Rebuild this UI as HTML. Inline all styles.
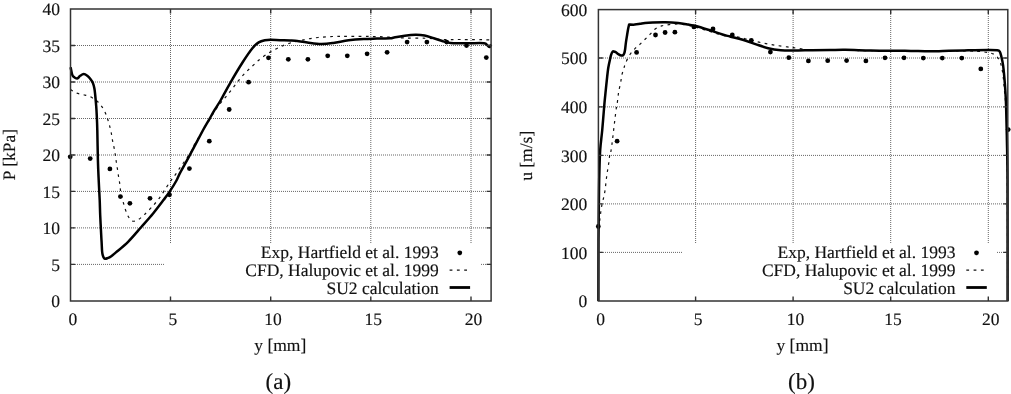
<!DOCTYPE html>
<html><head><meta charset="utf-8"><style>
html,body{margin:0;padding:0;background:#fff;}
svg{display:block;will-change:transform;}
text{font-family:"Liberation Serif", serif;font-size:17.5px;fill:#111;stroke:#111;stroke-width:0.15px;text-rendering:geometricPrecision;}
</style></head><body>
<svg width="1011" height="394" viewBox="0 0 1011 394">
<rect width="1011" height="394" fill="#fff"/>
<path d="M170.5,10V301.0M270.7,10V301.0M370.8,10V301.0M471.0,10V301.0M71,45.5H491.1M71,82.0H491.1M71,118.5H491.1M71,155.0H491.1M71,191.4H491.1M71,227.9H491.1M71,264.4H491.1" stroke="#666" stroke-width="1" stroke-dasharray="1 1" fill="none"/>
<rect x="165" y="243.3" width="315" height="57.69999999999999" fill="#fff"/>
<path d="M70.60,89.60 C71.53,90.17 74.08,92.15 76.20,93.00 C78.32,93.85 80.93,94.07 83.30,94.70 C85.67,95.33 88.20,95.78 90.40,96.80 C92.60,97.82 94.73,99.37 96.50,100.80 C98.27,102.23 99.60,103.57 101.00,105.40 C102.40,107.23 103.83,109.63 104.90,111.80 C105.97,113.97 106.65,116.20 107.40,118.40 C108.15,120.60 108.77,122.62 109.40,125.00 C110.03,127.38 110.70,130.23 111.20,132.70 C111.70,135.17 111.95,137.43 112.40,139.80 C112.85,142.17 113.43,144.53 113.90,146.90 C114.37,149.27 114.85,151.82 115.20,154.00 C115.55,156.18 115.65,157.65 116.00,160.00 C116.35,162.35 116.88,165.40 117.30,168.10 C117.72,170.80 118.10,173.65 118.50,176.20 C118.90,178.75 119.37,181.02 119.70,183.40 C120.03,185.78 120.18,188.32 120.50,190.50 C120.82,192.68 121.12,194.45 121.60,196.50 C122.08,198.55 122.72,200.47 123.40,202.80 C124.08,205.13 124.82,208.08 125.70,210.50 C126.58,212.92 127.57,215.53 128.70,217.30 C129.83,219.07 130.98,220.67 132.50,221.10 C134.02,221.53 135.90,220.92 137.80,219.90 C139.70,218.88 141.62,217.08 143.90,215.00 C146.18,212.92 148.95,210.18 151.50,207.40 C154.05,204.62 156.70,201.67 159.20,198.30 C161.70,194.93 164.52,190.20 166.50,187.20 C168.48,184.20 169.57,182.47 171.10,180.30 C172.63,178.13 174.18,176.37 175.70,174.20 C177.22,172.03 178.80,169.33 180.20,167.30 C181.60,165.27 182.82,163.77 184.10,162.00 C185.38,160.23 186.63,158.60 187.90,156.70 C189.17,154.80 190.68,152.52 191.70,150.60 C192.72,148.68 192.53,147.88 194.00,145.20 C195.47,142.52 198.42,137.95 200.50,134.50 C202.58,131.05 204.67,127.50 206.50,124.50 C208.33,121.50 210.17,118.70 211.50,116.50 C212.83,114.30 213.50,112.88 214.50,111.30 C215.50,109.72 216.25,108.67 217.50,107.00 C218.75,105.33 220.52,103.10 222.00,101.30 C223.48,99.50 224.92,98.00 226.40,96.20 C227.88,94.40 229.42,92.40 230.90,90.50 C232.38,88.60 233.82,86.72 235.30,84.80 C236.78,82.88 238.22,80.92 239.80,79.00 C241.38,77.08 243.22,74.98 244.80,73.30 C246.38,71.62 247.58,70.53 249.30,68.90 C251.02,67.27 253.28,65.15 255.10,63.50 C256.92,61.85 258.17,60.60 260.20,59.00 C262.23,57.40 265.10,55.35 267.30,53.90 C269.50,52.45 271.20,51.48 273.40,50.30 C275.60,49.12 278.30,47.82 280.50,46.80 C282.70,45.78 284.40,45.00 286.60,44.20 C288.80,43.40 291.47,42.58 293.70,42.00 C295.93,41.42 297.72,41.20 300.00,40.70 C302.28,40.20 304.38,39.53 307.40,39.00 C310.42,38.47 313.78,37.92 318.10,37.50 C322.42,37.08 328.22,36.70 333.30,36.50 C338.38,36.30 342.25,36.30 348.60,36.30 C354.95,36.30 364.50,36.37 371.40,36.50 C378.30,36.63 384.43,36.85 390.00,37.10 C395.57,37.35 398.78,37.80 404.80,38.00 C410.82,38.20 419.75,38.05 426.10,38.30 C432.45,38.55 437.05,39.30 442.90,39.50 C448.75,39.70 453.58,39.45 461.20,39.50 C468.82,39.55 483.63,39.75 488.60,39.80 C493.57,39.85 490.60,39.80 491.00,39.80" stroke="#111" stroke-width="1.2" stroke-dasharray="2.7 4.4" fill="none"/>
<path d="M70.60,67.20 C70.85,68.38 71.60,72.70 72.10,74.30 C72.60,75.90 72.75,76.08 73.60,76.80 C74.45,77.52 76.10,78.77 77.20,78.60 C78.30,78.43 79.10,76.55 80.20,75.80 C81.30,75.05 82.62,74.10 83.80,74.10 C84.98,74.10 86.20,75.00 87.30,75.80 C88.40,76.60 89.47,77.72 90.40,78.90 C91.33,80.08 92.23,81.30 92.90,82.90 C93.57,84.50 94.02,86.48 94.40,88.50 C94.78,90.52 94.90,92.05 95.20,95.00 C95.50,97.95 95.94,102.80 96.20,106.20 C96.46,109.60 96.57,111.43 96.75,115.40 C96.93,119.37 97.11,122.57 97.30,130.00 C97.49,137.43 97.67,151.62 97.90,160.00 C98.13,168.38 98.40,173.63 98.70,180.30 C99.00,186.97 99.45,194.17 99.70,200.00 C99.95,205.83 99.95,209.47 100.20,215.30 C100.45,221.13 100.97,230.55 101.20,235.00 C101.43,239.45 101.43,239.10 101.60,242.00 C101.77,244.90 101.90,249.90 102.20,252.40 C102.50,254.90 102.95,255.93 103.40,257.00 C103.85,258.07 104.22,258.60 104.90,258.80 C105.58,259.00 106.43,258.63 107.50,258.20 C108.57,257.77 109.90,257.17 111.30,256.20 C112.70,255.23 113.10,254.80 115.90,252.40 C118.70,250.00 123.87,246.03 128.10,241.80 C132.33,237.57 137.13,231.72 141.30,227.00 C145.47,222.28 149.37,218.03 153.10,213.50 C156.83,208.97 160.92,203.48 163.70,199.80 C166.48,196.12 167.72,194.53 169.80,191.40 C171.88,188.27 174.47,184.12 176.20,181.00 C177.93,177.88 178.00,176.88 180.20,172.70 C182.40,168.52 185.58,163.02 189.40,155.90 C193.22,148.78 199.88,135.93 203.10,130.00 C206.32,124.07 206.70,123.77 208.70,120.30 C210.70,116.83 213.08,112.58 215.10,109.20 C217.12,105.82 218.27,104.40 220.80,100.00 C223.33,95.60 226.68,89.05 230.30,82.80 C233.92,76.55 238.78,68.30 242.50,62.50 C246.22,56.70 249.90,51.35 252.60,48.00 C255.30,44.65 256.67,43.70 258.70,42.40 C260.73,41.10 262.77,40.63 264.80,40.20 C266.83,39.77 268.37,39.80 270.90,39.80 C273.43,39.80 276.82,40.08 280.00,40.20 C283.18,40.32 287.47,40.40 290.00,40.50 C292.53,40.60 292.30,40.47 295.20,40.80 C298.10,41.13 303.08,41.98 307.40,42.50 C311.72,43.02 316.78,43.83 321.10,43.90 C325.42,43.97 328.72,43.50 333.30,42.90 C337.88,42.30 343.52,40.95 348.60,40.30 C353.68,39.65 359.07,39.28 363.80,39.00 C368.53,38.72 372.63,38.72 377.00,38.60 C381.37,38.48 387.15,38.47 390.00,38.30 C392.85,38.13 391.63,38.03 394.10,37.60 C396.57,37.17 401.23,36.17 404.80,35.70 C408.37,35.23 412.20,34.83 415.50,34.80 C418.80,34.77 421.55,34.92 424.60,35.50 C427.65,36.08 430.75,37.33 433.80,38.30 C436.85,39.27 440.12,40.53 442.90,41.30 C445.68,42.07 447.45,42.58 450.50,42.90 C453.55,43.22 457.90,43.15 461.20,43.20 C464.50,43.25 466.50,43.20 470.30,43.20 C474.10,43.20 481.20,42.88 484.00,43.20 C486.80,43.52 486.17,44.45 487.10,45.10 C488.03,45.75 488.93,47.22 489.60,47.10 C490.27,46.98 490.85,44.85 491.10,44.40" stroke="#000" stroke-width="2.5" fill="none" stroke-linejoin="round"/>
<circle cx="70.2" cy="156.8" r="2.4" fill="#000"/><circle cx="90.2" cy="158.6" r="2.4" fill="#000"/><circle cx="109.9" cy="168.9" r="2.4" fill="#000"/><circle cx="120.4" cy="196.6" r="2.4" fill="#000"/><circle cx="129.9" cy="203.3" r="2.4" fill="#000"/><circle cx="150" cy="198.3" r="2.4" fill="#000"/><circle cx="169.5" cy="194.8" r="2.4" fill="#000"/><circle cx="189.4" cy="168.6" r="2.4" fill="#000"/><circle cx="209.3" cy="141.2" r="2.4" fill="#000"/><circle cx="229.2" cy="109.5" r="2.4" fill="#000"/><circle cx="248.6" cy="82.2" r="2.4" fill="#000"/><circle cx="268.5" cy="57.8" r="2.4" fill="#000"/><circle cx="288.3" cy="59.3" r="2.4" fill="#000"/><circle cx="307.9" cy="59.3" r="2.4" fill="#000"/><circle cx="327.7" cy="55.8" r="2.4" fill="#000"/><circle cx="347.3" cy="55.8" r="2.4" fill="#000"/><circle cx="367.1" cy="53.8" r="2.4" fill="#000"/><circle cx="387.1" cy="52.3" r="2.4" fill="#000"/><circle cx="407.1" cy="42.1" r="2.4" fill="#000"/><circle cx="426.9" cy="42.1" r="2.4" fill="#000"/><circle cx="446.7" cy="42.1" r="2.4" fill="#000"/><circle cx="466.5" cy="45.6" r="2.4" fill="#000"/><circle cx="486.3" cy="57.6" r="2.4" fill="#000"/>
<path d="M170.5,301.0v-4.5M170.5,9.0v4.5M270.7,301.0v-4.5M270.7,9.0v4.5M370.8,301.0v-4.5M370.8,9.0v4.5M471.0,301.0v-4.5M471.0,9.0v4.5M70.5,45.5h4.5M491.1,45.5h-4.5M70.5,82.0h4.5M491.1,82.0h-4.5M70.5,118.5h4.5M491.1,118.5h-4.5M70.5,155.0h4.5M491.1,155.0h-4.5M70.5,191.4h4.5M491.1,191.4h-4.5M70.5,227.9h4.5M491.1,227.9h-4.5M70.5,264.4h4.5M491.1,264.4h-4.5" stroke="#333" stroke-width="1.4" fill="none"/>
<rect x="70.5" y="9.0" width="420.60" height="292.00" stroke="#333" stroke-width="1.5" fill="none"/>
<text x="438.70000000000005" y="258.3" text-anchor="end">Exp, Hartfield et al. 1993</text>
<text x="438.70000000000005" y="276.1" text-anchor="end">CFD, Halupovic et al. 1999</text>
<text x="438.70000000000005" y="294" text-anchor="end">SU2 calculation</text>
<circle cx="459.8" cy="252.8" r="2.4" fill="#000"/>
<path d="M449.6,270.1H470.1" stroke="#111" stroke-width="1.2" stroke-dasharray="2.8 4.5" fill="none"/>
<path d="M449.6,287.5H470.1" stroke="#000" stroke-width="2.8" fill="none"/>
<path d="M695.6,10V301.0M793.1,10V301.0M890.7,10V301.0M988.3,10V301.0M599,58.0H1007.8M599,106.9H1007.8M599,155.4H1007.8M599,203.9H1007.8M599,252.4H1007.8" stroke="#666" stroke-width="1" stroke-dasharray="1 1" fill="none"/>
<rect x="682" y="243.5" width="314.5" height="57.5" fill="#fff"/>
<path d="M598.40,228.00 C598.67,226.42 599.58,221.35 600.00,218.50 C600.42,215.65 600.55,213.33 600.90,210.90 C601.25,208.47 601.62,206.23 602.10,203.90 C602.58,201.57 603.32,199.12 603.80,196.90 C604.28,194.68 604.65,192.92 605.00,190.60 C605.35,188.28 605.60,185.53 605.90,183.00 C606.20,180.47 606.48,177.73 606.80,175.40 C607.12,173.07 607.43,171.33 607.80,169.00 C608.17,166.67 608.68,163.72 609.00,161.40 C609.32,159.08 609.47,156.25 609.70,155.10 C609.93,153.95 610.00,156.50 610.40,154.50 C610.80,152.50 611.57,147.12 612.10,143.10 C612.63,139.08 613.10,134.63 613.60,130.40 C614.10,126.17 614.63,121.52 615.10,117.70 C615.57,113.88 616.07,109.72 616.40,107.50 C616.73,105.28 616.83,106.18 617.10,104.40 C617.37,102.62 617.70,99.12 618.00,96.80 C618.30,94.48 618.47,92.83 618.90,90.50 C619.33,88.17 620.12,85.35 620.60,82.80 C621.08,80.25 621.28,77.52 621.80,75.20 C622.32,72.88 623.08,70.90 623.70,68.90 C624.32,66.90 624.57,65.42 625.50,63.20 C626.43,60.98 627.83,57.92 629.30,55.60 C630.77,53.28 632.62,51.10 634.30,49.30 C635.98,47.50 637.60,46.48 639.40,44.80 C641.20,43.12 643.30,40.98 645.10,39.20 C646.90,37.42 648.52,35.80 650.20,34.10 C651.88,32.40 653.30,30.37 655.20,29.00 C657.10,27.63 659.27,26.63 661.60,25.90 C663.93,25.17 666.45,24.92 669.20,24.60 C671.95,24.28 675.57,24.00 678.10,24.00 C680.63,24.00 682.28,24.28 684.40,24.60 C686.52,24.92 689.10,25.53 690.80,25.90 C692.50,26.27 691.40,25.87 694.60,26.80 C697.80,27.73 705.13,30.05 710.00,31.50 C714.87,32.95 719.42,34.62 723.80,35.50 C728.18,36.38 732.10,36.10 736.30,36.80 C740.50,37.50 744.77,38.70 749.00,39.70 C753.23,40.70 757.47,41.90 761.70,42.80 C765.93,43.70 770.17,44.42 774.40,45.10 C778.63,45.78 783.92,46.47 787.10,46.90 C790.28,47.33 791.17,47.37 793.50,47.70 C795.83,48.03 798.57,48.55 801.10,48.90 C803.63,49.25 803.88,49.57 808.70,49.80 C813.52,50.03 819.78,50.17 830.00,50.30 C840.22,50.43 855.00,50.52 870.00,50.60 C885.00,50.68 903.33,50.73 920.00,50.80 C936.67,50.87 958.58,50.68 970.00,51.00 C981.42,51.32 984.25,52.00 988.50,52.70 C992.75,53.40 993.70,53.93 995.50,55.20 C997.30,56.47 998.30,58.40 999.30,60.30 C1000.30,62.20 1000.87,63.98 1001.50,66.60 C1002.13,69.22 1002.62,72.10 1003.10,76.00 C1003.58,79.90 1003.90,84.33 1004.40,90.00 C1004.90,95.67 1005.63,101.67 1006.10,110.00 C1006.57,118.33 1006.95,108.18 1007.20,140.00 C1007.45,171.82 1007.53,274.08 1007.60,300.90" stroke="#111" stroke-width="1.2" stroke-dasharray="2.7 4.4" fill="none"/>
<path d="M598.40,300.90 C598.42,290.75 598.42,256.82 598.50,240.00 C598.58,223.18 598.77,210.77 598.90,200.00 C599.03,189.23 599.08,183.73 599.30,175.40 C599.52,167.07 599.72,157.50 600.20,150.00 C600.68,142.50 601.55,137.48 602.20,130.40 C602.85,123.32 603.68,112.47 604.10,107.50 C604.52,102.53 604.38,103.87 604.70,100.60 C605.02,97.33 605.58,91.92 606.00,87.90 C606.42,83.88 606.85,79.65 607.20,76.50 C607.55,73.35 607.83,70.92 608.10,69.00 C608.37,67.08 608.48,66.60 608.80,65.00 C609.12,63.40 609.62,61.10 610.00,59.40 C610.38,57.70 610.67,56.07 611.10,54.80 C611.53,53.53 612.15,52.37 612.60,51.80 C613.05,51.23 613.28,51.35 613.80,51.40 C614.32,51.45 614.88,51.60 615.70,52.10 C616.52,52.60 617.75,53.82 618.70,54.40 C619.65,54.98 620.63,55.50 621.40,55.60 C622.17,55.70 622.80,55.45 623.30,55.00 C623.80,54.55 624.08,53.95 624.40,52.90 C624.72,51.85 624.95,50.42 625.20,48.70 C625.45,46.98 625.58,44.88 625.90,42.60 C626.22,40.32 626.73,37.27 627.10,35.00 C627.47,32.73 627.77,30.75 628.10,29.00 C628.43,27.25 628.93,25.25 629.10,24.50 C630.05,24.52 632.97,24.72 634.80,24.60 C636.63,24.48 638.40,24.07 640.10,23.80 C641.80,23.53 642.90,23.22 645.00,23.00 C647.10,22.78 649.30,22.62 652.70,22.50 C656.10,22.38 661.17,22.20 665.40,22.30 C669.63,22.40 674.30,22.72 678.10,23.10 C681.90,23.48 685.25,24.12 688.20,24.60 C691.15,25.08 692.20,25.05 695.80,26.00 C699.40,26.95 705.35,28.88 709.80,30.30 C714.25,31.72 719.13,33.47 722.50,34.50 C725.87,35.53 726.63,35.63 730.00,36.50 C733.37,37.37 738.47,38.43 742.70,39.70 C746.93,40.97 751.17,42.68 755.40,44.10 C759.63,45.52 763.87,47.18 768.10,48.20 C772.33,49.22 776.57,49.82 780.80,50.20 C785.03,50.58 788.22,50.50 793.50,50.50 C798.78,50.50 806.42,50.28 812.50,50.20 C818.58,50.12 824.52,50.07 830.00,50.00 C835.48,49.93 838.60,49.72 845.40,49.80 C852.20,49.88 862.35,50.33 870.80,50.50 C879.25,50.67 889.40,50.73 896.10,50.80 C902.80,50.87 905.35,50.82 911.00,50.90 C916.65,50.98 923.65,51.32 930.00,51.30 C936.35,51.28 942.75,50.97 949.10,50.80 C955.45,50.63 961.77,50.42 968.10,50.30 C974.43,50.18 982.23,50.10 987.10,50.10 C991.97,50.10 995.18,50.03 997.30,50.30 C999.42,50.57 999.12,50.62 999.80,51.70 C1000.48,52.78 1000.85,54.52 1001.40,56.80 C1001.95,59.08 1002.60,61.85 1003.10,65.40 C1003.60,68.95 1004.03,74.00 1004.40,78.10 C1004.77,82.20 1005.02,85.27 1005.30,90.00 C1005.58,94.73 1005.83,98.17 1006.10,106.50 C1006.37,114.83 1006.67,127.75 1006.90,140.00 C1007.13,152.25 1007.38,153.18 1007.50,180.00 C1007.62,206.82 1007.58,280.75 1007.60,300.90" stroke="#000" stroke-width="2.5" fill="none" stroke-linejoin="round"/>
<circle cx="598.3" cy="226.5" r="2.4" fill="#000"/><circle cx="617.1" cy="141.2" r="2.4" fill="#000"/><circle cx="636.6" cy="52.4" r="2.4" fill="#000"/><circle cx="655.5" cy="35" r="2.4" fill="#000"/><circle cx="665.1" cy="32.5" r="2.4" fill="#000"/><circle cx="674.9" cy="32.2" r="2.4" fill="#000"/><circle cx="693.9" cy="26.9" r="2.4" fill="#000"/><circle cx="713" cy="29" r="2.4" fill="#000"/><circle cx="732.3" cy="35" r="2.4" fill="#000"/><circle cx="751.3" cy="40.3" r="2.4" fill="#000"/><circle cx="770.4" cy="52.1" r="2.4" fill="#000"/><circle cx="788.8" cy="57.7" r="2.4" fill="#000"/><circle cx="808.4" cy="60.9" r="2.4" fill="#000"/><circle cx="827.7" cy="60.7" r="2.4" fill="#000"/><circle cx="846.6" cy="60.6" r="2.4" fill="#000"/><circle cx="865.9" cy="60.9" r="2.4" fill="#000"/><circle cx="885" cy="57.8" r="2.4" fill="#000"/><circle cx="904" cy="57.8" r="2.4" fill="#000"/><circle cx="923.3" cy="58.1" r="2.4" fill="#000"/><circle cx="942.3" cy="58.1" r="2.4" fill="#000"/><circle cx="961.8" cy="58.1" r="2.4" fill="#000"/><circle cx="980.8" cy="68.9" r="2.4" fill="#000"/><circle cx="1008.2" cy="129.6" r="2.4" fill="#000"/>
<path d="M695.6,301.0v-4.5M695.6,9.6v4.5M793.1,301.0v-4.5M793.1,9.6v4.5M890.7,301.0v-4.5M890.7,9.6v4.5M988.3,301.0v-4.5M988.3,9.6v4.5M598.4,58.0h4.5M1007.8,58.0h-4.5M598.4,106.9h4.5M1007.8,106.9h-4.5M598.4,155.4h4.5M1007.8,155.4h-4.5M598.4,203.9h4.5M1007.8,203.9h-4.5M598.4,252.4h4.5M1007.8,252.4h-4.5" stroke="#333" stroke-width="1.4" fill="none"/>
<rect x="598.4" y="9.6" width="409.40" height="291.40" stroke="#333" stroke-width="1.5" fill="none"/>
<text x="955.4" y="258.3" text-anchor="end">Exp, Hartfield et al. 1993</text>
<text x="955.4" y="276.1" text-anchor="end">CFD, Halupovic et al. 1999</text>
<text x="955.4" y="294" text-anchor="end">SU2 calculation</text>
<circle cx="976.5" cy="252.8" r="2.4" fill="#000"/>
<path d="M966.3,270.1H986.8" stroke="#111" stroke-width="1.2" stroke-dasharray="2.8 4.5" fill="none"/>
<path d="M966.3,287.5H986.8" stroke="#000" stroke-width="2.8" fill="none"/>
<text x="60" y="307.0" text-anchor="end">0</text>
<text x="60" y="270.5" text-anchor="end">5</text>
<text x="60" y="234.0" text-anchor="end">10</text>
<text x="60" y="197.5" text-anchor="end">15</text>
<text x="60" y="161.1" text-anchor="end">20</text>
<text x="60" y="124.6" text-anchor="end">25</text>
<text x="60" y="88.1" text-anchor="end">30</text>
<text x="60" y="51.6" text-anchor="end">35</text>
<text x="60" y="15.1" text-anchor="end">40</text>
<text x="587.3" y="307.0" text-anchor="end">0</text>
<text x="587.3" y="258.5" text-anchor="end">100</text>
<text x="587.3" y="210.0" text-anchor="end">200</text>
<text x="587.3" y="161.5" text-anchor="end">300</text>
<text x="587.3" y="113.0" text-anchor="end">400</text>
<text x="587.3" y="64.2" text-anchor="end">500</text>
<text x="587.3" y="15.9" text-anchor="end">600</text>
<text x="72.8" y="324.6" text-anchor="middle">0</text>
<text x="172.9" y="324.6" text-anchor="middle">5</text>
<text x="273.1" y="324.6" text-anchor="middle">10</text>
<text x="373.2" y="324.6" text-anchor="middle">15</text>
<text x="473.4" y="324.6" text-anchor="middle">20</text>
<text x="600.7" y="324.6" text-anchor="middle">0</text>
<text x="698.0" y="324.6" text-anchor="middle">5</text>
<text x="795.5" y="324.6" text-anchor="middle">10</text>
<text x="893.1" y="324.6" text-anchor="middle">15</text>
<text x="990.7" y="324.6" text-anchor="middle">20</text>
<text x="280.3" y="351" text-anchor="middle">y [mm]</text>
<text x="802.5" y="351" text-anchor="middle">y [mm]</text>
<text x="278.3" y="389" text-anchor="middle" style="font-size:23px">(a)</text>
<text x="801.5" y="389" text-anchor="middle" style="font-size:23px">(b)</text>
<text transform="translate(14.8,154.6) rotate(-90)" text-anchor="middle">P [kPa]</text>
<text transform="translate(532,155.8) rotate(-90)" text-anchor="middle">u [m/s]</text>
</svg></body></html>
